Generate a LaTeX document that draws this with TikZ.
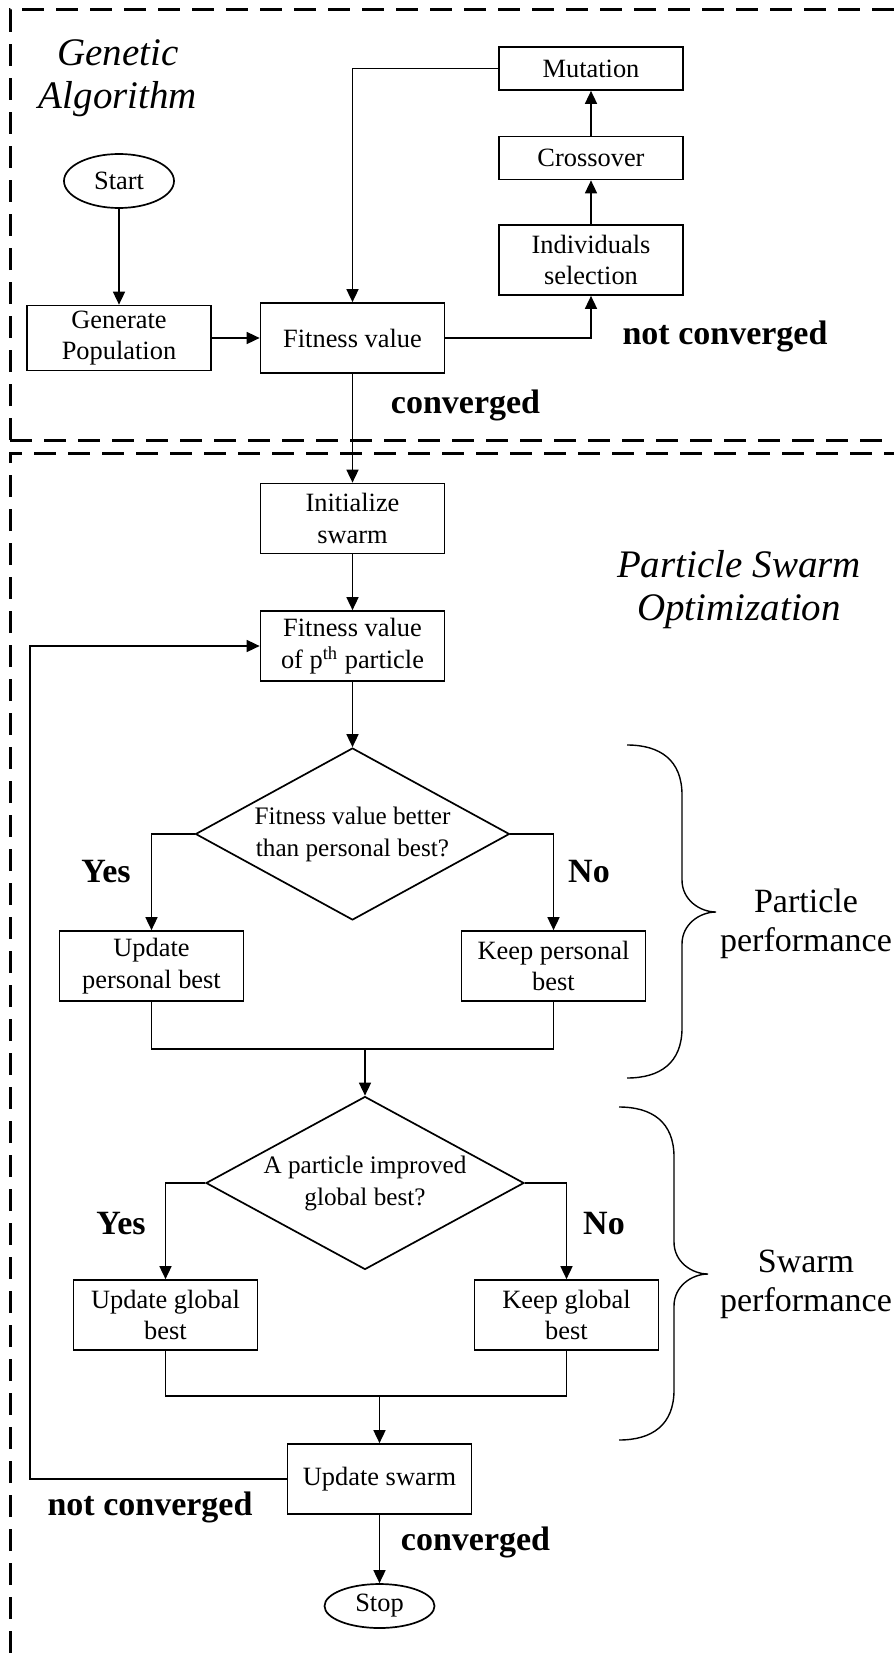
\documentclass[tikz,border=0pt]{standalone}
\usepackage{fontspec}
\setmainfont{Liberation Serif}
\usetikzlibrary{positioning,arrows.meta,shapes.geometric}

\newcommand{\boxfont}{\fontsize{13.2pt}{15.8pt}\selectfont}
\newcommand{\askfont}{\fontsize{12.6pt}{16pt}\selectfont}
\newcommand{\tagfont}{\fontsize{17pt}{20pt}\selectfont\bfseries}
\newcommand{\ttlfont}{\fontsize{19.5pt}{21.5pt}\selectfont\itshape}
\newcommand{\grpfont}{\fontsize{17pt}{19.5pt}\selectfont}

\begin{document}
\begin{tikzpicture}[x=0.5pt,y=-0.5pt,
  blk/.style={draw,line width=0.85pt,minimum width=92pt,minimum height=35pt,inner sep=1pt,align=center,font=\boxfont},
  term/.style={draw,ellipse,line width=0.85pt,minimum width=55pt,inner sep=0pt,font=\boxfont},
  ask/.style={draw,diamond,line width=0.85pt,aspect=1.83,inner sep=0pt,align=center,font=\askfont},
  tag/.style={font=\tagfont,inner sep=0pt},
  ttl/.style={font=\ttlfont,align=center,inner sep=0pt},
  grp/.style={font=\grpfont,align=center,inner sep=0pt},
  arr/.style={line width=0.8pt,-{Triangle[length=6.5pt,width=6pt]}},
  lnk/.style={line width=0.8pt},
  zone/.style={line width=1.5pt,dash pattern=on 11pt off 6pt},
  brc/.style={line width=0.7pt}]
\useasboundingbox (0,0) rectangle (894,1653);

% the two dashed zones
\draw[zone] (10,440) -- (10,10) -- (894,10);
\draw[zone] (10,440) -- (894,440);
\draw[zone] (10,1653) -- (10,453) -- (894,453);

% genetic algorithm part
\node[ttl] (gatitle) at (118,78.5) {Genetic\\Algorithm};
\node[term,minimum height=27pt] (start) at (119,181) {Start};
\node[blk,minimum height=32.5pt] (genpop) at (119,338) {Generate\\Population};
\node[blk] (fitga) at (352.5,338) {Fitness value};
\node[blk] (select) at (591,260) {Individuals\\selection};
\node[blk,minimum height=21.5pt] (cross) at (591,158) {Crossover};
\node[blk,minimum height=21.5pt] (mutate) at (591,68.5) {Mutation};
\node[tag] (ncga) at (725,336) {not converged};
\node[tag] (cga) at (465.5,405) {converged};

% particle swarm part
\node[ttl] (psotitle) at (739,589.5) {Particle Swarm\\Optimization};
\node[blk] (init) at (352.5,518.5) {Initialize\\swarm};
\node[blk] (fitp) at (352.5,646) {Fitness value\\of p\textsuperscript{th} particle};
\node[ask,minimum width=157pt,minimum height=86pt] (dec1) at (352.5,834) {Fitness value better\\than personal best?};
\node[blk] (updp) at (151.5,966) {Update\\personal best};
\node[blk] (keepp) at (553.5,966) {Keep personal\\best};
\node[tag] (yes1) at (106,872) {Yes};
\node[tag] (no1) at (589,872) {No};
\coordinate (m1) at (365,1049);
\node[ask,minimum width=159pt,minimum height=86.5pt] (dec2) at (365,1183) {A particle improved\\global best?};
\node[blk] (updg) at (165.5,1315) {Update global\\best};
\node[blk] (keepg) at (566.5,1315) {Keep global\\best};
\node[tag] (yes2) at (121,1224) {Yes};
\node[tag] (no2) at (604,1224) {No};
\coordinate (m2) at (379.5,1396);
\node[blk] (upsw) at (379.5,1479) {Update swarm};
\coordinate (lp) at (30,1479);
\node[tag] (ncpso) at (150,1507) {not converged};
\node[tag] (cpso) at (475.5,1542) {converged};
\node[term,minimum height=22pt] (stop) at (379.5,1606) {Stop};
\node[grp] (partperf) at (806,923.5) {Particle\\performance};
\node[grp] (swarmperf) at (806,1284) {Swarm\\performance};

% connectors
\draw[arr] (start) -- (genpop);
\draw[arr] (genpop) -- (fitga);
\draw[arr] (fitga.east) -| (select.south);
\draw[arr] (select) -- (cross);
\draw[arr] (cross) -- (mutate);
\draw[arr] (mutate.west) -| (fitga.north);
\draw[arr] (fitga) -- (init);
\draw[arr] (init) -- (fitp);
\draw[arr] (fitp) -- (dec1);
\draw[arr] (dec1.west) -| (updp.north);
\draw[arr] (dec1.east) -| (keepp.north);
\draw[lnk] (updp.south) |- (m1) -| (keepp.south);
\draw[arr] (m1) -- (dec2);
\draw[arr] (dec2.west) -| (updg.north);
\draw[arr] (dec2.east) -| (keepg.north);
\draw[lnk] (updg.south) |- (m2) -| (keepg.south);
\draw[arr] (m2) -- (upsw);
\draw[arr] (upsw.west) -- (lp) |- (fitp.west);
\draw[arr] (upsw) -- (stop);

% braces
\foreach \dx/\dy in {0/0,-8/362}
  \draw[brc,shift={(\dx,\dy)}] (627,745) .. controls (660,745) and (682,760) .. (682,795)
    -- (682,880) .. controls (682,900) and (700,912) .. (716,912)
    .. controls (700,912) and (682,924) .. (682,944) -- (682,1028)
    .. controls (682,1063) and (660,1078) .. (627,1078);
\end{tikzpicture}
\end{document}
